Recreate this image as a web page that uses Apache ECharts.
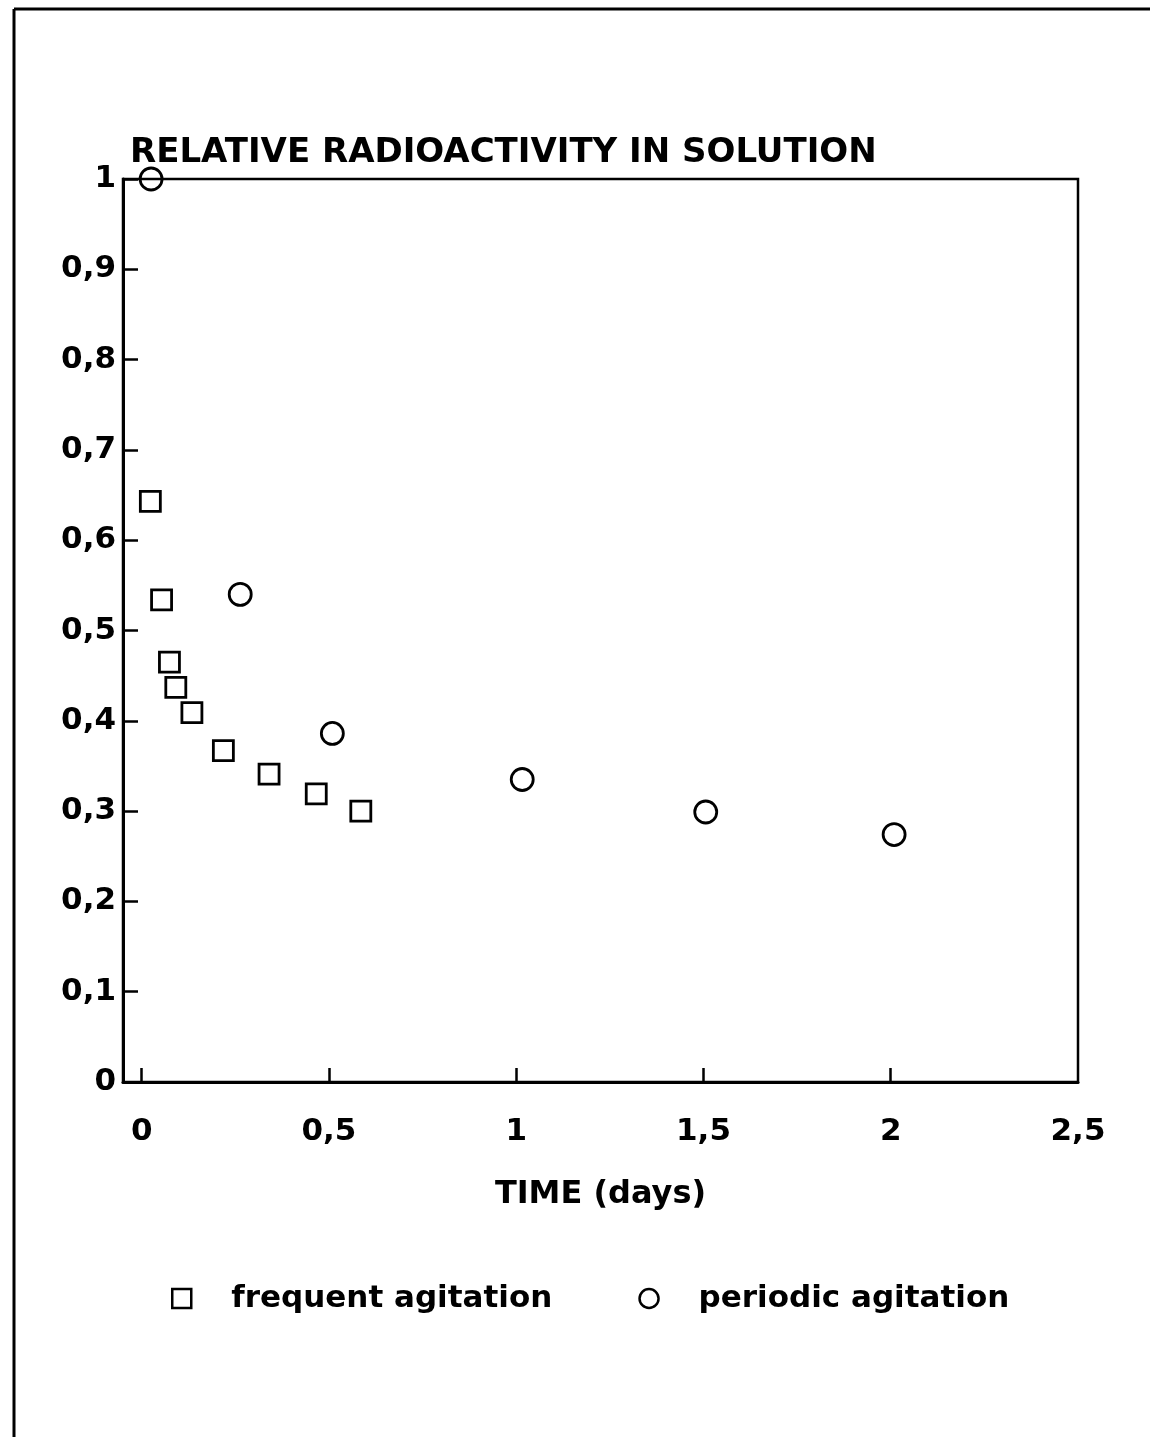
<!DOCTYPE html>
<html>
<head>
<meta charset="utf-8">
<script src="https://cdn.jsdelivr.net/npm/echarts@6/dist/echarts.min.js"></script>
<style>
html,body{margin:0;padding:0;background:#fff;}
#chart{width:1150px;height:1437px;}
</style>
</head>
<body>
<div id="chart"></div>
<script>
// ---- data ----
const frequentTime = [0.023, 0.053, 0.074, 0.091, 0.134, 0.218, 0.340, 0.466, 0.585];
const frequentValue = [0.643, 0.534, 0.465, 0.437, 0.409, 0.367, 0.341, 0.319, 0.300];
const periodicTime = [0.025, 0.263, 0.509, 1.016, 1.506, 2.009];
const periodicValue = [1.0, 0.540, 0.386, 0.335, 0.299, 0.274];
const xTickLabels = [0, 0.5, 1, 1.5, 2, 2.5];
const xTickMarks = [0, 0.5, 1, 1.5, 2];
const seriesNames = ['frequent agitation', 'periodic agitation'];
const titleText = 'RELATIVE RADIOACTIVITY IN SOLUTION';
const xAxisTitle = 'TIME (days)';

const FONT = '"DejaVu Sans", sans-serif';
const fmt = v => String(Math.round(v * 10) / 10).replace('.', ',');

const chart = echarts.init(document.getElementById('chart'), null, {renderer: 'canvas'});
chart.setOption({
  backgroundColor: '#fff',
  animation: false,
  title: {
    text: titleText,
    left: 125, top: 131,
    textStyle: {fontFamily: FONT, fontWeight: 'bold', fontSize: 34, color: '#000'}
  },
  graphic: [
    {type: 'line', shape: {x1: 14, y1: 9, x2: 1150, y2: 9}, style: {stroke: '#000', lineWidth: 3}},
    {type: 'line', shape: {x1: 14, y1: 9, x2: 14, y2: 1437}, style: {stroke: '#000', lineWidth: 3}}
  ],
  grid: {
    left: 123, right: 72, top: 179, bottom: 355,
    show: true, borderColor: '#000', borderWidth: 2.5, backgroundColor: 'transparent'
  },
  xAxis: {
    type: 'value', min: -0.05, max: 2.5,
    name: xAxisTitle, nameLocation: 'middle', nameGap: 97,
    nameTextStyle: {fontFamily: FONT, fontWeight: 'bold', fontSize: 32, color: '#000'},
    axisLine: {show: true, onZero: false, lineStyle: {color: '#000', width: 3}},
    axisTick: {show: true, inside: true, length: 14, lineStyle: {color: '#000', width: 2.5}, customValues: xTickMarks},
    axisLabel: {show: true, margin: 34, fontFamily: FONT, fontWeight: 'bold', fontSize: 31, color: '#000',
      customValues: xTickLabels, formatter: fmt},
    splitLine: {show: false}
  },
  yAxis: {
    type: 'value', min: 0, max: 1, interval: 0.1,
    axisLine: {show: true, onZero: false, lineStyle: {color: '#000', width: 3}},
    axisTick: {show: true, inside: true, length: 15, lineStyle: {color: '#000', width: 2.5}},
    axisLabel: {show: true, margin: 7, fontFamily: FONT, fontWeight: 'bold', fontSize: 31, color: '#000', formatter: fmt},
    splitLine: {show: false}
  },
  legend: {
    left: 166, top: 1278,
    itemWidth: 19, itemHeight: 19, itemGap: 86,
    textStyle: {fontFamily: FONT, fontWeight: 'bold', fontSize: 31, color: '#000', padding: [0, 0, 0, 35]},
    data: [
      {name: seriesNames[0], icon: 'rect', itemStyle: {color: 'transparent', borderColor: '#000', borderWidth: 2.5, opacity: 1}},
      {name: seriesNames[1], icon: 'circle', itemStyle: {color: 'transparent', borderColor: '#000', borderWidth: 2.5, opacity: 1}}
    ]
  },
  series: [
    {
      name: seriesNames[0], type: 'scatter', symbol: 'rect', symbolSize: 20, clip: false,
      itemStyle: {color: 'transparent', borderColor: '#000', borderWidth: 2.8, opacity: 1},
      data: frequentTime.map((t, i) => [t, frequentValue[i]])
    },
    {
      name: seriesNames[1], type: 'scatter', symbol: 'circle', symbolSize: 22, clip: false,
      itemStyle: {color: 'transparent', borderColor: '#000', borderWidth: 2.8, opacity: 1},
      data: periodicTime.map((t, i) => [t, periodicValue[i]])
    }
  ]
});
</script>
</body>
</html>
